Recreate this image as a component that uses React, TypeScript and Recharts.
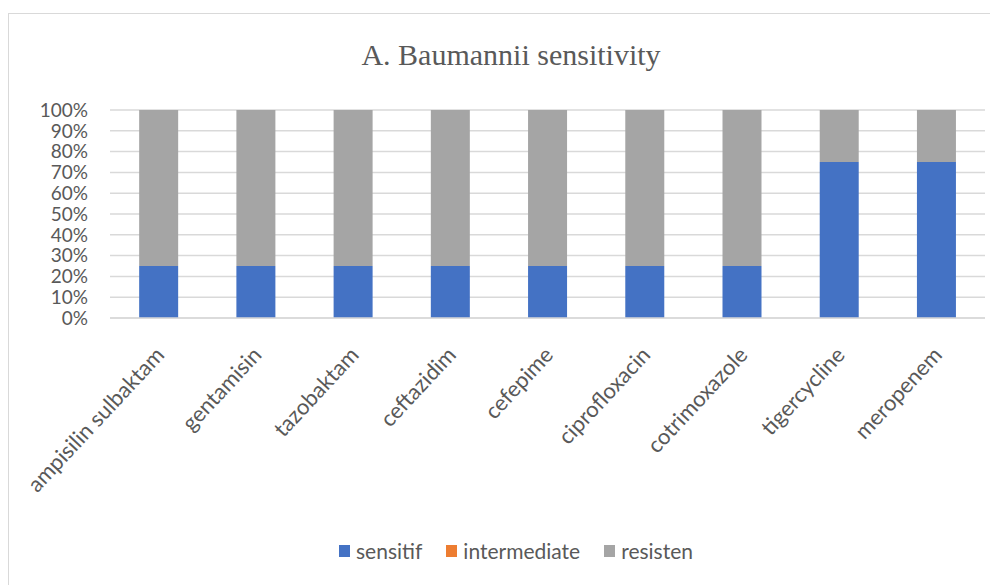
import { Bar, BarChart, CartesianGrid, Legend, XAxis, YAxis } from 'recharts'

const categories = [
  'ampisilin sulbaktam',
  'gentamisin',
  'tazobaktam',
  'ceftazidim',
  'cefepime',
  'ciprofloxacin',
  'cotrimoxazole',
  'tigercycline',
  'meropenem'
]
const seriesNames = ['sensitif', 'intermediate', 'resisten']
const sensitif = [25, 25, 25, 25, 25, 25, 25, 75, 75]
const intermediate = [0, 0, 0, 0, 0, 0, 0, 0, 0]
const resisten = [75, 75, 75, 75, 75, 75, 75, 25, 25]
const yTicks = [0, 10, 20, 30, 40, 50, 60, 70, 80, 90, 100]

const data = categories.map((name, i) => ({
  name,
  sensitif: sensitif[i],
  intermediate: intermediate[i],
  resisten: resisten[i]
}))

const sans = "Lato, 'Open Sans', sans-serif"
const textColor = '#595959'
const gridColor = '#d9d9d9'

const CategoryTick = ({ x, y, payload }: any) => (
  <g transform={`translate(${x + 7},${y + 38})`}>
    <text textAnchor="end" transform="rotate(-47)" fill={textColor} fontSize={22} fontFamily={sans}>
      {payload.value}
    </text>
  </g>
)

const LegendContent = ({ payload }: any) => {
  const items = [...(payload || [])].sort(
    (a: any, b: any) => seriesNames.indexOf(a.value) - seriesNames.indexOf(b.value)
  )
  return (
    <div
      style={{
        display: 'flex',
        justifyContent: 'center',
        gap: 24,
        fontFamily: sans,
        fontSize: 21,
        color: textColor
      }}
    >
      {items.map((p: any) => (
        <span key={p.value} style={{ display: 'flex', alignItems: 'center' }}>
          <span style={{ width: 11, height: 12, background: p.color, marginRight: 6, display: 'inline-block' }} />
          {p.value}
        </span>
      ))}
    </div>
  )
}

export default function App() {
  return (
    <div
      style={{
        position: 'relative',
        marginTop: 5,
        width: 1000,
        height: 580,
        border: `1px solid ${gridColor}`,
        background: '#fff'
      }}
    >
      <div
        style={{
          position: 'absolute',
          top: 24,
          left: 0,
          width: 1004,
          textAlign: 'center',
          fontFamily: "'Liberation Serif', 'DejaVu Serif', serif",
          fontSize: 30,
          color: textColor
        }}
      >
        A. Baumannii sensitivity
      </div>
      <BarChart
        width={990}
        height={570}
        data={data}
        barCategoryGap="30%"
        margin={{ top: 96, right: 14, bottom: 0, left: 0 }}
      >
        <CartesianGrid stroke={gridColor} strokeWidth={1.5} vertical={false} />
        <XAxis
          dataKey="name"
          height={266}
          interval={0}
          tickLine={false}
          tickSize={0}
          tickMargin={0}
          axisLine={{ stroke: gridColor, strokeWidth: 1.5 }}
          tick={<CategoryTick />}
        />
        <YAxis
          width={101}
          domain={[0, 100]}
          ticks={yTicks}
          interval={0}
          axisLine={false}
          tickLine={false}
          tickSize={0}
          tickMargin={22}
          tickFormatter={(v) => `${v}%`}
          tick={{ fill: textColor, fontSize: 19, fontFamily: sans }}
        />
        <Legend
          verticalAlign="middle"
          align="center"
          layout="horizontal"
          wrapperStyle={{ top: 524, left: 0, width: 1014 }}
          content={<LegendContent />}
        />
        <Bar dataKey="sensitif" name="sensitif" stackId="a" fill="#4472C4" isAnimationActive={false} />
        <Bar dataKey="intermediate" name="intermediate" stackId="a" fill="#ED7D31" isAnimationActive={false} />
        <Bar dataKey="resisten" name="resisten" stackId="a" fill="#A5A5A5" isAnimationActive={false} />
      </BarChart>
    </div>
  )
}
